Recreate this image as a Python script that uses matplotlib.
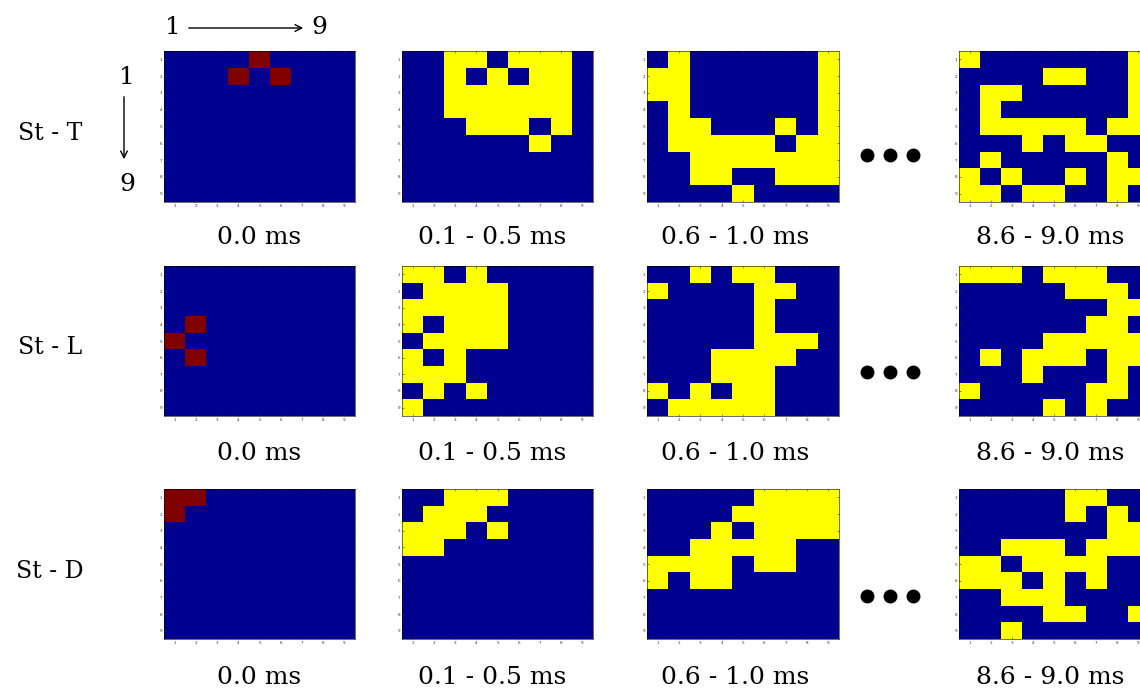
import numpy as np
import matplotlib.pyplot as plt
from matplotlib.colors import ListedColormap
from matplotlib.lines import Line2D
from matplotlib.patches import FancyArrowPatch

# 0 = idle, 1 = active, 2 = stimulus
st_t_0 = ["000020000", "000202000", "000000000", "000000000", "000000000",
          "000000000", "000000000", "000000000", "000000000"]
st_t_1 = ["001101110", "001010110", "001111110", "001111110", "000111010",
          "000000100", "000000000", "000000000", "000000000"]
st_t_2 = ["010000001", "110000001", "110000001", "010000001", "011000101",
          "011111011", "001111111", "001100111", "000010000"]
st_t_3 = ["100000001", "000011001", "011000001", "010000001", "011111011",
          "000101100", "010000010", "101001011", "110110010"]

st_l_0 = ["000000000", "000000000", "000000000", "020000000", "200000000",
          "020000000", "000000000", "000000000", "000000000"]
st_l_1 = ["110100000", "011110000", "111110000", "101110000", "011110000",
          "101000000", "111000000", "010100000", "100000000"]
st_l_2 = ["001011000", "100001100", "000001000", "000001000", "000001110",
          "000111100", "000111000", "101011000", "011111000"]
st_l_3 = ["111011100", "000001110", "000000011", "000000110", "000011111",
          "010111011", "000100010", "100000110", "000010100"]

st_d_0 = ["220000000", "200000000", "000000000", "000000000", "000000000",
          "000000000", "000000000", "000000000", "000000000"]
st_d_1 = ["001110000", "011100000", "111010000", "110000000", "000000000",
          "000000000", "000000000", "000000000", "000000000"]
st_d_2 = ["000001111", "000011111", "000101111", "001111100", "111101100",
          "101100000", "000000000", "000000000", "000000000"]
st_d_3 = ["000001100", "000001010", "000000011", "001110111", "110111100",
          "111010100", "001110000", "000011001", "001000000"]

grids = [[st_t_0, st_t_1, st_t_2, st_t_3],
         [st_l_0, st_l_1, st_l_2, st_l_3],
         [st_d_0, st_d_1, st_d_2, st_d_3]]
row_names = ["St - T", "St - L", "St - D"]
time_labels = ["0.0 ms", "0.1 - 0.5 ms", "0.6 - 1.0 ms", "8.6 - 9.0 ms"]

W, H = 1140, 692
cmap = ListedColormap(["#00008f", "#ffff00", "#800000"])
serif = "DejaVu Serif"

fig = plt.figure(figsize=(W / 100, H / 100), dpi=100)

col_left = [164, 402, 647, 959]
col_w = [191, 191, 192, 190]
row_top = [51, 266, 489]
row_h = [151, 150, 150]
label_y = [238, 453, 677]
label_x = [259, 492, 735, 1050]
dots_y = [155, 372, 596]


def to_array(rows):
    return np.array([[int(c) for c in r] for r in rows])


for i in range(3):
    for j in range(4):
        ax = fig.add_axes([col_left[j] / W, 1 - (row_top[i] + row_h[i]) / H,
                           col_w[j] / W, row_h[i] / H])
        ax.imshow(to_array(grids[i][j]), cmap=cmap, vmin=0, vmax=2,
                  aspect="auto", interpolation="nearest",
                  extent=(0.5, 9.5, 9.5, 0.5))
        ax.set_xticks(range(1, 10))
        ax.set_yticks(range(1, 10))
        ax.tick_params(labelsize=3, length=1.5, width=0.4, direction="in",
                       pad=1.5, colors="#333333", top=True, right=True)
        for s in ax.spines.values():
            s.set_linewidth(0.4)
        fig.text(label_x[j] / W, 1 - label_y[i] / H, time_labels[j],
                 ha="center", va="center", fontsize=18, family=serif)

    fig.text(50 / W, 1 - (row_top[i] + 82) / H, row_names[i],
             ha="center", va="center", fontsize=17, family=serif)
    # ellipsis between the early and late snapshots
    for dx in (867, 890, 913):
        fig.add_artist(Line2D([dx / W], [1 - dots_y[i] / H], marker="o",
                              markersize=9, color="black",
                              transform=fig.transFigure))

# index orientation: columns 1 -> 9, rows 1 -> 9
fig.text(173 / W, 1 - 27 / H, "1", ha="center", va="center",
         fontsize=18, family=serif)
fig.text(319 / W, 1 - 27 / H, "9", ha="center", va="center",
         fontsize=18, family=serif)
fig.add_artist(FancyArrowPatch(
    (186 / W, 1 - 28 / H), (306 / W, 1 - 28 / H), transform=fig.transFigure,
    arrowstyle="->", mutation_scale=12, lw=1, color="black"))
fig.text(127 / W, 1 - 78 / H, "1", ha="center", va="center",
         fontsize=18, family=serif)
fig.text(127 / W, 1 - 185 / H, "9", ha="center", va="center",
         fontsize=18, family=serif)
fig.add_artist(FancyArrowPatch(
    (124 / W, 1 - 94 / H), (124 / W, 1 - 162 / H), transform=fig.transFigure,
    arrowstyle="->", mutation_scale=12, lw=1, color="black"))

fig.savefig("out.png", dpi=100)
